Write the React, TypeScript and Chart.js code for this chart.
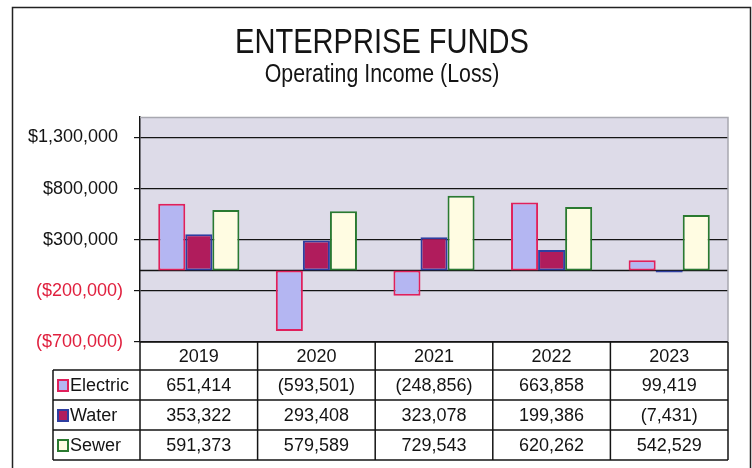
import React, { useEffect, useRef } from 'react';
import { Chart, registerables } from 'chart.js';

Chart.register(...registerables);

// ---- data ----
const years = ['2019', '2020', '2021', '2022', '2023'];
const seriesNames = ['Electric', 'Water', 'Sewer'];
const electric = [651414, -593501, -248856, 663858, 99419];
const water = [353322, 293408, 323078, 199386, -7431];
const sewer = [591373, 579589, 729543, 620262, 542529];
const yTickValues = [-700000, -200000, 300000, 800000, 1300000];
const yMin = -700000;
const yMax = 1500000;
const titleText = 'ENTERPRISE FUNDS';
const subtitleText = 'Operating Income (Loss)';

// ---- styles ----
const fills = ['#b4b6f2', '#b01c5c', '#fffce2'];
const borders = ['#e0205c', '#2e3ea0', '#2a7a30'];
const NEG_RED = '#e0203e';
const INK = '#141414';
const SANS = '"Liberation Sans", Arial, sans-serif';

const fmtTick = (v: number) =>
  v < 0 ? '($' + Math.abs(v).toLocaleString('en-US') + ')' : '$' + v.toLocaleString('en-US') + ' ';
const fmtCell = (v: number) =>
  v < 0 ? '(' + Math.abs(v).toLocaleString('en-US') + ')' : v.toLocaleString('en-US');

function drawCondensed(ctx: CanvasRenderingContext2D, text: string, cx: number, cy: number, size: number, sx: number) {
  ctx.save();
  ctx.translate(cx, cy);
  ctx.scale(sx, 1);
  ctx.font = size + 'px ' + SANS;
  ctx.fillStyle = INK;
  ctx.textAlign = 'center';
  ctx.textBaseline = 'middle';
  ctx.fillText(text, 0, 0);
  ctx.restore();
}

const chartPlugin = {
  id: 'excelLook',
  beforeDraw(chart: any) {
    const { ctx, chartArea: a } = chart;
    ctx.save();
    ctx.fillStyle = '#ffffff';
    ctx.fillRect(0, 0, chart.width, chart.height);
    ctx.fillStyle = '#dddbe8';
    ctx.fillRect(a.left, a.top, a.right - a.left, a.bottom - a.top);
    ctx.restore();
  },
  beforeDatasetsDraw(chart: any) {
    const { ctx, chartArea: a, scales } = chart;
    const y0 = Math.round(scales.y.getPixelForValue(0)) + 0.5;
    ctx.save();
    ctx.strokeStyle = INK;
    ctx.lineWidth = 1.5;
    ctx.beginPath();
    ctx.moveTo(a.left, y0);
    ctx.lineTo(a.right, y0);
    ctx.stroke();
    ctx.restore();
  },
  afterDraw(chart: any) {
    const { ctx, chartArea: a } = chart;
    ctx.save();
    // titles (condensed like the original)
    drawCondensed(ctx, titleText, 382, 43, 35, 0.83);
    drawCondensed(ctx, subtitleText, 382, 75, 26, 0.82);

    // plot area top / right border
    ctx.strokeStyle = '#a8a8b0';
    ctx.lineWidth = 1.5;
    ctx.beginPath();
    ctx.moveTo(a.left, a.top + 0.5);
    ctx.lineTo(a.right, a.top + 0.5);
    ctx.lineTo(a.right, a.bottom);
    ctx.stroke();

    // outer frame
    ctx.strokeStyle = '#222';
    ctx.lineWidth = 1.5;
    ctx.strokeRect(12.5, 7.5, 738, 470);

    // data table
    const headerH = 28;
    const rowH = 30;
    const legendLeft = 53;
    const top = a.bottom;
    const rowsTop = top + headerH;
    const bottom = rowsTop + rowH * seriesNames.length;
    const colW = (a.right - a.left) / years.length;

    ctx.strokeStyle = INK;
    ctx.lineWidth = 1.5;
    ctx.beginPath();
    ctx.moveTo(a.left, top);
    ctx.lineTo(a.right, top);
    for (let r = 0; r <= seriesNames.length; r++) {
      const y = rowsTop + r * rowH;
      ctx.moveTo(legendLeft, y);
      ctx.lineTo(a.right, y);
    }
    for (let c = 0; c <= years.length; c++) {
      const x = a.left + c * colW;
      ctx.moveTo(x, top);
      ctx.lineTo(x, bottom);
    }
    ctx.moveTo(legendLeft, rowsTop);
    ctx.lineTo(legendLeft, bottom);
    ctx.stroke();

    ctx.font = '18px ' + SANS;
    ctx.fillStyle = INK;
    ctx.textBaseline = 'middle';
    ctx.textAlign = 'center';
    years.forEach((yr, c) => {
      ctx.fillText(yr, a.left + (c + 0.5) * colW, top + headerH / 2 + 1);
    });

    const series = [electric, water, sewer];
    series.forEach((vals, r) => {
      const cy = rowsTop + r * rowH + rowH / 2 + 1;
      vals.forEach((v, c) => {
        ctx.textAlign = 'center';
        ctx.fillStyle = INK;
        ctx.fillText(fmtCell(v), a.left + (c + 0.5) * colW, cy);
      });
      ctx.fillStyle = fills[r];
      ctx.fillRect(58, cy - 6, 10, 11);
      ctx.strokeStyle = borders[r];
      ctx.lineWidth = 2;
      ctx.strokeRect(58, cy - 6, 10, 11);
      ctx.fillStyle = INK;
      ctx.textAlign = 'left';
      ctx.fillText(seriesNames[r], 70, cy);
    });
    ctx.restore();
  },
};

export default function App() {
  const canvasRef = useRef<HTMLCanvasElement | null>(null);

  useEffect(() => {
    const canvas = canvasRef.current;
    if (!canvas) return;
    const seriesData = [electric, water, sewer];
    const chart = new Chart(canvas, {
      type: 'bar',
      data: {
        labels: years,
        datasets: seriesNames.map((name, i) => ({
          label: name,
          data: seriesData[i],
          backgroundColor: fills[i],
          borderColor: borders[i],
          borderWidth: 2,
          borderSkipped: false,
          categoryPercentage: 0.69,
          barPercentage: 1.0,
          minBarLength: i === 1 ? 2 : 0,
          yAxisID: 'y',
        })),
      },
      options: {
        responsive: false,
        animation: false,
        events: [],
        layout: { padding: { left: 13, right: 24, top: 117, bottom: 126 } },
        plugins: {
          legend: { display: false },
          tooltip: { enabled: false },
          title: { display: false },
          subtitle: { display: false },
        },
        scales: {
          x: { display: false },
          y: {
            position: 'left',
            min: yMin,
            max: yMax,
            afterBuildTicks: (s: any) => {
              s.ticks = yTickValues.map((v) => ({ value: v }));
            },
            afterFit: (s: any) => {
              s.width = 127;
            },
            grid: { color: INK, lineWidth: 1.2, tickLength: 6, drawTicks: true, tickColor: INK },
            border: { display: true, color: INK, width: 1.5 },
            ticks: {
              padding: 11,
              autoSkip: false,
              color: (c: any) => (c.tick && c.tick.value < 0 ? NEG_RED : INK),
              font: { family: SANS, size: 18 },
              callback: (v: any) => fmtTick(Number(v)),
            },
          },
        },
      },
      plugins: [chartPlugin],
    } as any);
    return () => chart.destroy();
  }, []);

  return (
    <canvas
      ref={canvasRef}
      width={752}
      height={468}
      style={{ position: 'fixed', left: 0, top: 0, width: 752, height: 468 }}
    />
  );
}
